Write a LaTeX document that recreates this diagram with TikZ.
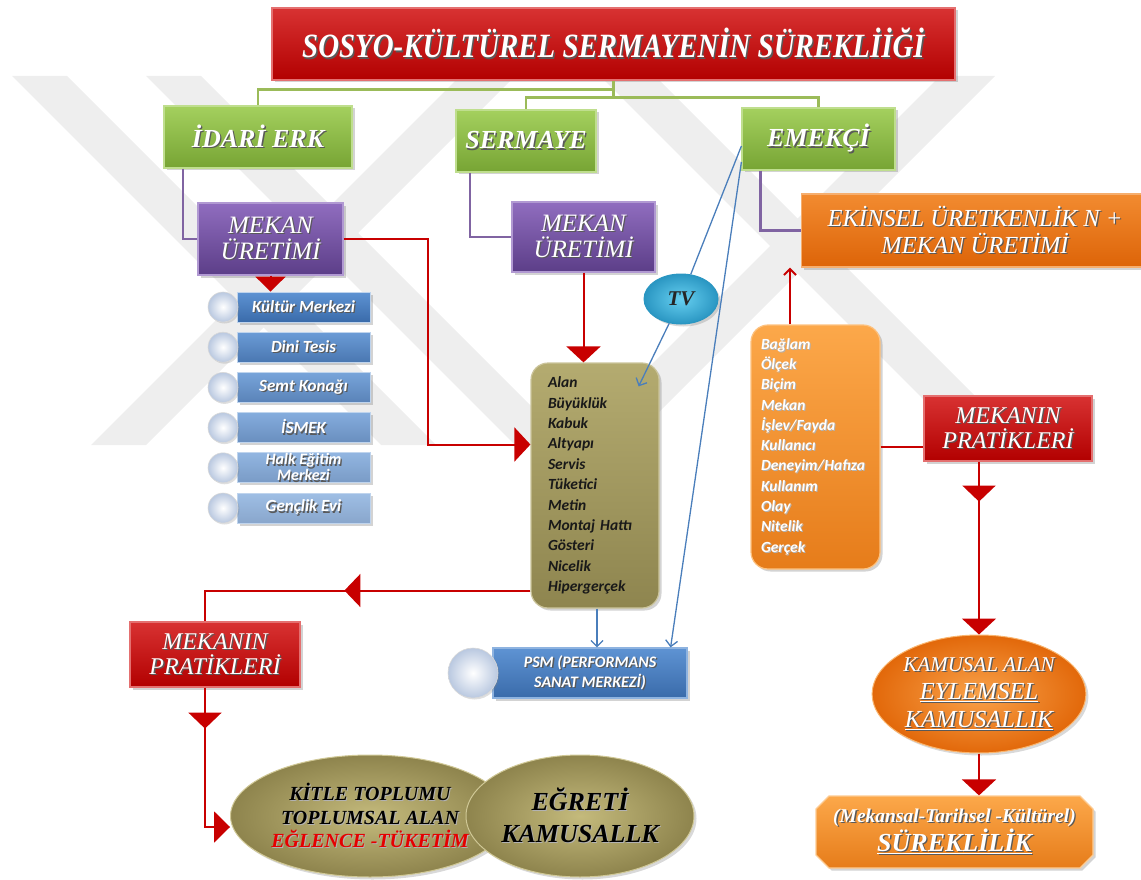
\documentclass[tikz,border=0pt]{standalone}
\usepackage{fontspec}
\setmainfont{Liberation Serif}
\newfontfamily\ttlfont[FakeStretch=0.85]{Liberation Serif}
\newfontfamily\lsfont{Carlito}
\usetikzlibrary{shapes.geometric,shapes.misc,shadows,arrows.meta,decorations.markings,calc}

\definecolor{rdA}{HTML}{D83232}
\definecolor{rdB}{HTML}{B20000}
\definecolor{rdLine}{HTML}{C80000}
\definecolor{grA}{HTML}{A4D05E}
\definecolor{grB}{HTML}{77A434}
\definecolor{grLine}{HTML}{9BBB59}
\definecolor{puA}{HTML}{906DBF}
\definecolor{puB}{HTML}{5C3E88}
\definecolor{puLine}{HTML}{8064A2}
\definecolor{orA}{HTML}{F28B30}
\definecolor{orB}{HTML}{DD6408}
\definecolor{olA}{HTML}{B4AB70}
\definecolor{olB}{HTML}{8E854F}
\definecolor{olC}{HTML}{C4BA7C}
\definecolor{olD}{HTML}{8E844D}
\definecolor{ogA}{HTML}{FCA84A}
\definecolor{ogB}{HTML}{E67C1A}
\definecolor{ogC}{HTML}{F9A24A}
\definecolor{ogD}{HTML}{E2680A}
\definecolor{blA}{HTML}{5E93D3}
\definecolor{blB}{HTML}{3A6BAA}
\definecolor{blLine}{HTML}{4A7EBB}
\definecolor{tvA}{HTML}{66CFF0}
\definecolor{tvB}{HTML}{2A96C2}
\definecolor{wmark}{HTML}{EEEEEE}
\definecolor{pearl}{HTML}{B9C8E0}

% white lettering with a soft dark drop shadow
\newcommand\shd[1]{\leavevmode\rlap{\kern1.3pt\raisebox{-1.3pt}{\textcolor{black!65}{#1}}}#1}
% dark lettering with a light grey drop shadow
\newcommand\shg[1]{\leavevmode\rlap{\kern1pt\raisebox{-1pt}{\textcolor{black!30}{#1}}}#1}
\newcommand\fhb[2]{\rmfamily\bfseries\itshape\fontsize{#1}{#2}\selectfont}
\newcommand\fhi[2]{\rmfamily\mdseries\itshape\fontsize{#1}{#2}\selectfont}
\newcommand\fsb[2]{\lsfont\bfseries\itshape\fontsize{#1}{#2}\selectfont}
\newcommand\smallitem{\fontsize{16}{16}\selectfont}

\begin{document}
\begin{tikzpicture}[x=1pt,y=-1pt,
  box/.style 2 args={rectangle, top color=#1, bottom color=#2, draw=#1!70!white,
    line width=1.2pt, inner sep=2pt, text=white, align=center,
    drop shadow={opacity=0.35, shadow xshift=2.5pt, shadow yshift=-2.5pt}},
  rbox/.style 2 args={box={#1}{#2}, rounded corners=17pt},
  oval/.style 2 args={ellipse, inner sep=0pt, shading=radial, inner color=#1, outer color=#2,
    draw=#1!80!white, line width=1pt, align=center,
    drop shadow={opacity=0.3, shadow xshift=2.5pt, shadow yshift=-2.5pt}},
  pearlball/.style={circle, inner sep=0pt, shading=radial, inner color=white, outer color=pearl,
    draw=white!85!black, line width=0.6pt,
    drop shadow={opacity=0.25, shadow xshift=1.5pt, shadow yshift=-1.5pt}},
  gline/.style={draw=grLine, line width=2.2pt},
  pline/.style={draw=puLine, line width=2.2pt},
  rline/.style={draw=rdLine, line width=2pt},
  bline/.style={draw=blLine, line width=1.3pt},
  rtip/.style={-{Triangle[width=34pt,length=16pt]}},
  btip/.style={-{Straight Barb[length=6pt,width=12pt]}},
  redmark/.style={postaction={decorate, decoration={markings,
    mark=at position #1 with {\arrow{Triangle[width=33pt,length=16pt]}}}}}
]
\useasboundingbox (0,0) rectangle (1141,880);

% faint emblem in the background
\fill[wmark] (12,76) -- (67,76) -- (436,445) -- (381,445) -- cycle;
\fill[wmark] (146,76) -- (201,76) -- (570,445) -- (515,445) -- cycle;
\fill[wmark] (91,445) -- (146,445) -- (515,76) -- (460,76) -- cycle;
\fill[wmark] (600,76) -- (655,76) -- (1024,445) -- (969,445) -- cycle;
\fill[wmark] (571,445) -- (626,445) -- (995,76) -- (940,76) -- cycle;

% title
\node[box={rdA}{rdB}, minimum width=683pt, minimum height=72pt, font=\ttlfont\bfseries\itshape\fontsize{34}{36}\selectfont]
  (title) at (613.5,44) {\shd{SOSYO-KÜLTÜREL SERMAYENİN SÜREKLİİĞİ}};

% actors
\node[box={grA}{grB}, minimum width=188pt, minimum height=62pt, font=\fhb{26}{28}] (idari) at (258,137) {\shd{İDARİ ERK}};
\node[box={grA}{grB}, minimum width=140pt, minimum height=62pt, font=\fhb{26}{28}] (sermaye) at (526,141) {\shd{SERMAYE}};
\node[box={grA}{grB}, minimum width=153pt, minimum height=62pt, font=\fhb{26}{28}] (emekci) at (818.5,139) {\shd{EMEKÇİ}};

% production of space
\node[box={puA}{puB}, minimum width=145pt, minimum height=72pt, font=\fhi{25}{26}] (mekan1) at (270.5,239) {\shd{MEKAN}\\\shd{ÜRETİMİ}};
\node[box={puA}{puB}, minimum width=143pt, minimum height=70pt, font=\fhi{25}{26}] (mekan2) at (583.5,237) {\shd{MEKAN}\\\shd{ÜRETİMİ}};
\node[box={orA}{orB}, minimum width=347pt, minimum height=73pt, font=\fhi{24.5}{27}] (ekinsel) at (975,230.5)
  {\shd{EKİNSEL ÜRETKENLİK N +}\\\shd{MEKAN ÜRETİMİ}};

% facilities
\foreach \t [count=\i from 0] in {\shd{Kültür Merkezi}, \shd{Dini Tesis}, \shd{Semt Konağı}, \shd{İSMEK},
    {{\smallitem\shd{Halk Eğitim}}\\{\smallitem\shd{Merkezi}}}, \shd{Gençlik Evi}} {
  \pgfmathtruncatemacro\mix{100-8*\i}
  \node[box={blA!\mix!white}{blB!\mix!white}, draw=blA!40!white, line width=0.8pt,
        minimum width=133pt, minimum height=30pt, inner sep=0pt, font=\fsb{17}{16}]
    (item\i) at (303.5,{307+40.2*\i}) {\t};
  \node[pearlball, minimum size=30pt] (bull\i) at (223,{307+40.2*\i}) {};
}

% attribute lists
\node[rbox={olA}{olB}, draw=olA!70!white, minimum width=128pt, minimum height=245pt, text width=94pt,
      inner xsep=17pt, align=left, text=black!90, font=\fsb{15.5}{20.4}] (olive) at (595,485.5)
  {Alan\\Büyüklük\\Kabuk\\Altyapı\\Servis\\Tüketici\\Metin\\Montaj Hattı\\Gösteri\\Nicelik\\Hipergerçek};
\node[rbox={ogA}{ogB}, minimum width=129pt, minimum height=244pt, text width=109pt,
      inner xsep=10pt, align=left, font=\fsb{15.5}{20.3}] (olist) at (815.5,447)
  {\shg{Bağlam}\\\shg{Ölçek}\\\shg{Biçim}\\\shg{Mekan}\\\shg{İşlev/Fayda}\\\shg{Kullanıcı}\\
   \shg{Deneyim/Hafıza}\\\shg{Kullanım}\\\shg{Olay}\\\shg{Nitelik}\\\shg{Gerçek}};

% media
\node[oval={tvA}{tvB}, minimum width=74pt, minimum height=50pt, draw=tvB, font=\fhb{21}{22}, text=black!85] (tv) at (681,299) {TV};
\node[box={blA}{blB}, minimum width=194pt, minimum height=50pt, font=\fsb{16}{20}] (psm) at (590,673)
  {\shd{PSM (PERFORMANS}\\\shd{SANAT MERKEZİ)}};
\node[pearlball, minimum size=50pt] (psmball) at (473,673) {};

% practices of space
\node[box={rdA}{rdB}, minimum width=170pt, minimum height=65pt, font=\fhi{24}{25}] (prat1) at (215,654.5) {\shd{MEKANIN}\\\shd{PRATİKLERİ}};
\node[box={rdA}{rdB}, minimum width=168pt, minimum height=65pt, font=\fhi{24}{25}] (prat2) at (1008,428.5) {\shd{MEKANIN}\\\shd{PRATİKLERİ}};

% outcomes
\node[oval={olC}{olD}, minimum width=220pt, minimum height=122pt, font=\fhb{20}{23.5}] (kitle) at (370,816)
  {\shg{KİTLE TOPLUMU}\\\shg{TOPLUMSAL ALAN}\\{\color{red!90!black}\shg{EĞLENCE -TÜKETİM}}};
\node[oval={olC}{olD}, minimum width=228pt, minimum height=122pt, font=\fhb{26}{32}] (egreti) at (580,816)
  {\shg{EĞRETİ}\\\shg{KAMUSALLK}};
\node[oval={ogC}{ogD}, minimum width=212pt, minimum height=118pt, text=white, font=\fhi{24.5}{28}] (kamusal) at (979,694)
  {{\fontsize{21}{28}\selectfont\shd{KAMUSAL ALAN}}\\\shd{\underline{EYLEMSEL}}\\\shd{\underline{KAMUSALLIK}}};
\node[chamfered rectangle, chamfered rectangle xsep=10pt, top color=ogA, bottom color=ogB, draw=ogA!60!white,
      line width=1.2pt, text=white, align=center, minimum width=277pt, minimum height=72pt, font=\fhb{26}{26},
      drop shadow={opacity=0.35, shadow xshift=2.5pt, shadow yshift=-2.5pt}] (surek) at (954.5,832)
  {{\fontsize{19.5}{26}\selectfont\shd{(Mekansal-Tarihsel -Kültürel)}}\\\shd{\underline{SÜREKLİLİK}}};

% hierarchy links
\draw[gline] (title.south) -- ++(0,9) -| (idari.north);
\draw[gline] (title.south) -- ++(0,17) -| (sermaye.north);
\draw[gline] (title.south) ++(0,17) -| (emekci.north);
\draw[pline] ([xshift=-75pt]idari.south) |- (mekan1.west);
\draw[pline] ([xshift=-56pt]sermaye.south) |- (mekan2.west);
\draw[pline] ([xshift=-58pt]emekci.south) |- (ekinsel.west);

% flows
\draw[rline, -{Triangle[width=30pt,length=15pt]}] (mekan1.south) -- (mekan1.south |- item0.north);
\draw[rline, rtip] (mekan1.east) -- ++(84,0) |- ([yshift=41pt]olive.west);
\draw[rline, rtip] (mekan2.south) -- (mekan2.south |- olive.north);
\draw[rline, redmark=186pt] ([yshift=-105pt]olive.west) -| ([xshift=-10pt]prat1.north);
\draw[rline, redmark=41pt, -{Triangle[width=31pt,length=16pt]}] ([xshift=-10pt]prat1.south) |- ([yshift=-11pt]kitle.west);
\draw[rline, -{Straight Barb[length=6pt,width=12pt]}] ([xshift=-25.5pt]olist.north) -- ([xshift=-25.5pt]olist.north |- ekinsel.south);
\draw[rline] (olist.east) -- (olist.east -| prat2.west);
\draw[rline, redmark=40pt, rtip] ([xshift=-29pt]prat2.south) -- (kamusal.north);
\draw[rline, rtip] (kamusal.south) -- (kamusal.south |- surek.north);

% media links
\coordinate (tvend) at ($(olive.north east)+(-21,24)$);
\draw[bline] ([yshift=-7pt]emekci.west) -- (tv);
\draw[bline, btip] (tv) -- (tvend);
\draw[bline, btip] ([yshift=-23pt]emekci.west) -- ([xshift=-17pt]psm.north east);
\draw[bline, btip] ([xshift=2pt]olive.south) -- ([xshift=2pt]olive.south |- psm.north);
\end{tikzpicture}
\end{document}
